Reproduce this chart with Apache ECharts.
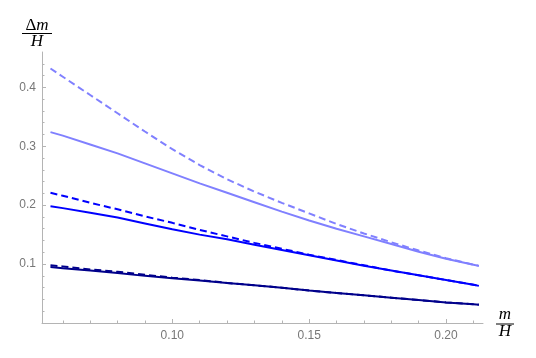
<!DOCTYPE html>
<html>
<head>
<meta charset="UTF-8">
<title>Δm/H vs m/H</title>
<script src="https://cdn.jsdelivr.net/npm/echarts@6/dist/echarts.min.js"></script>
<style>
  html, body { margin: 0; padding: 0; background: #fff; }
  #chart { width: 536px; height: 358px; }
</style>
</head>
<body>
<div id="chart"></div>
<script>
// x values (m/H)
const xs = [0.0555, 0.06, 0.07, 0.08, 0.09, 0.10, 0.11, 0.12, 0.13, 0.14,
            0.15, 0.16, 0.17, 0.18, 0.19, 0.20, 0.21, 0.212];

// Δm/H for each curve
const lightDashed = [0.432, 0.418, 0.387, 0.356, 0.325, 0.295, 0.268, 0.244, 0.223, 0.204,
                     0.186, 0.168, 0.152, 0.137, 0.123, 0.110, 0.099, 0.097];
const lightSolid  = [0.324, 0.318, 0.303, 0.288, 0.271, 0.254, 0.237, 0.221, 0.205, 0.189,
                     0.174, 0.160, 0.147, 0.134, 0.121, 0.109, 0.099, 0.097];
const blueDashed  = [0.221, 0.216, 0.204, 0.193, 0.181, 0.170, 0.158, 0.147, 0.136, 0.126,
                     0.116, 0.107, 0.098, 0.089, 0.081, 0.073, 0.065, 0.063];
const blueSolid   = [0.198, 0.195, 0.187, 0.179, 0.169, 0.159, 0.150, 0.142, 0.133, 0.124,
                     0.115, 0.106, 0.097, 0.089, 0.081, 0.073, 0.065, 0.063];
const darkDashed  = [0.098, 0.096, 0.091, 0.087, 0.082, 0.077, 0.073, 0.068, 0.064, 0.060,
                     0.055, 0.051, 0.047, 0.043, 0.039, 0.035, 0.032, 0.031];
const darkSolid   = [0.095, 0.093, 0.089, 0.085, 0.080, 0.076, 0.072, 0.068, 0.064, 0.060,
                     0.055, 0.051, 0.047, 0.043, 0.039, 0.035, 0.032, 0.031];

// tick positions
const xMajor = [0.10, 0.15, 0.20];
const xMinor = [0.06, 0.07, 0.08, 0.09, 0.11, 0.12, 0.13, 0.14, 0.16, 0.17, 0.18, 0.19, 0.21];
const yMajor = [0.1, 0.2, 0.3, 0.4];
const yMinor = [0.02, 0.04, 0.06, 0.08, 0.12, 0.14, 0.16, 0.18, 0.22, 0.24, 0.26, 0.28,
                0.32, 0.34, 0.36, 0.38, 0.42, 0.44];

const X_MIN = 0.0524, X_MAX = 0.2135, Y_MIN = 0, Y_MAX = 0.46;
const axisGray = '#b4b4b4';
const labelGray = '#777';

const pairs = ys => xs.map((x, i) => [x, ys[i]]);

function line(name, ys, color, dashed) {
  return {
    name: name,
    type: 'line',
    data: pairs(ys),
    showSymbol: false,
    lineStyle: { color: color, width: 2, type: dashed ? [7, 4] : 'solid' },
    emphasis: { disabled: true }
  };
}

const serif = '"Liberation Serif", "DejaVu Serif", serif';

const chart = echarts.init(document.getElementById('chart'));

chart.setOption({
  animation: false,
  grid: { left: 42, right: 53, top: 52, bottom: 35 },
  xAxis: [
    {
      type: 'value', min: X_MIN, max: X_MAX,
      axisLine: { lineStyle: { color: axisGray } },
      axisTick: { inside: true, length: 4, lineStyle: { color: axisGray }, customValues: xMajor },
      axisLabel: { customValues: xMajor, color: labelGray, fontSize: 12, margin: 7,
                   fontFamily: 'Liberation Sans', formatter: v => v.toFixed(2) },
      splitLine: { show: false }
    },
    {
      type: 'value', min: X_MIN, max: X_MAX, position: 'bottom',
      axisLine: { show: false },
      axisTick: { inside: true, length: 2.5, lineStyle: { color: axisGray }, customValues: xMinor },
      axisLabel: { show: false },
      splitLine: { show: false }
    }
  ],
  yAxis: [
    {
      type: 'value', min: Y_MIN, max: Y_MAX,
      axisLine: { show: true, lineStyle: { color: axisGray } },
      axisTick: { show: true, inside: true, length: 4, lineStyle: { color: axisGray }, customValues: yMajor },
      axisLabel: { customValues: yMajor, color: labelGray, fontSize: 12, margin: 6,
                   fontFamily: 'Liberation Sans', formatter: v => v.toFixed(1) },
      splitLine: { show: false }
    },
    {
      type: 'value', min: Y_MIN, max: Y_MAX, position: 'left',
      axisLine: { show: false },
      axisTick: { show: true, inside: true, length: 2.5, lineStyle: { color: axisGray }, customValues: yMinor },
      axisLabel: { show: false },
      splitLine: { show: false }
    }
  ],
  series: [
    line('dark solid', darkSolid, '#00008b', false),
    line('dark dashed', darkDashed, '#00008b', true),
    line('blue solid', blueSolid, '#0000ff', false),
    line('blue dashed', blueDashed, '#0000ff', true),
    line('light solid', lightSolid, '#8080ff', false),
    line('light dashed', lightDashed, '#8080ff', true)
  ],
  graphic: [
    // y axis name: Δm / H
    { type: 'text', style: { text: '{a|Δ}{b|m}', x: 37, y: 26, align: 'center', verticalAlign: 'middle',
        rich: { a: { fontFamily: serif, fontSize: 17, fill: '#000' },
                b: { fontFamily: serif, fontSize: 17, fontStyle: 'italic', fill: '#000' } } } },
    { type: 'line', shape: { x1: 22, y1: 33.5, x2: 52, y2: 33.5 }, style: { stroke: '#000', lineWidth: 1 } },
    { type: 'text', style: { text: 'H', x: 37, y: 42, align: 'center', verticalAlign: 'middle',
        font: 'italic 17px ' + serif, fill: '#000' } },
    // x axis name: m / H
    { type: 'text', style: { text: 'm', x: 505, y: 315, align: 'center', verticalAlign: 'middle',
        font: 'italic 17px ' + serif, fill: '#000' } },
    { type: 'line', shape: { x1: 496, y1: 324, x2: 514, y2: 324 }, style: { stroke: '#000', lineWidth: 1 } },
    { type: 'text', style: { text: 'H', x: 505, y: 332, align: 'center', verticalAlign: 'middle',
        font: 'italic 17px ' + serif, fill: '#000' } }
  ]
});
</script>
</body>
</html>
